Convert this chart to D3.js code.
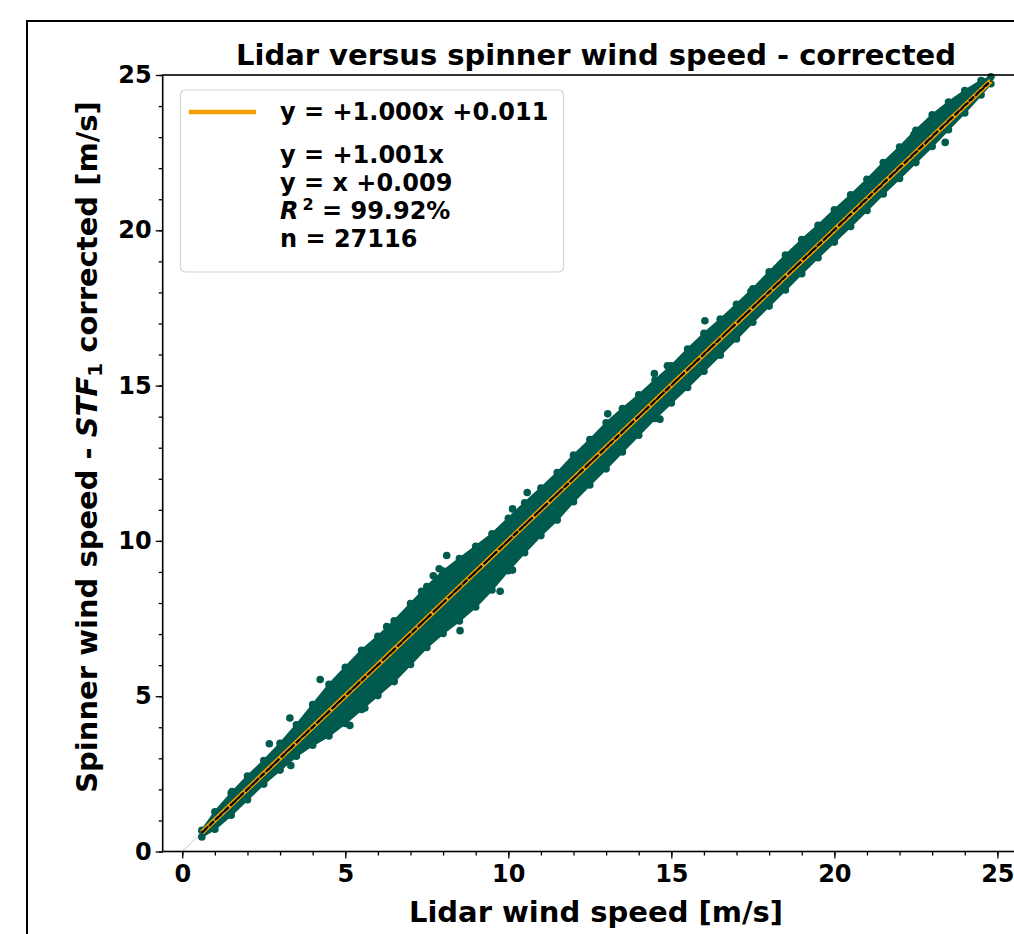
<!DOCTYPE html>
<html>
<head>
<meta charset="utf-8">
<script src="https://cdn.jsdelivr.net/npm/d3@7"></script>
<style>
  body { margin: 0; background: #fff; }
  text { font-family: "DejaVu Sans", sans-serif; font-weight: bold; }
</style>
</head>
<body>
<div id="chart-area"></div>
<script>
// scatter cloud: x, offset above and below the 1:1 line [m/s]
var bandX   = [0.6, 1.0, 1.5, 2.0, 2.5, 3.0, 3.5, 4.0, 4.5, 5.0, 5.5, 6.0, 6.5, 7.0, 7.5, 8.0, 8.5, 9.0, 9.5, 10.0, 10.5, 11.0, 11.5, 12.0, 12.5, 13.0, 13.5, 14.0, 14.5, 15.0, 15.5, 16.0, 16.5, 17.0, 17.5, 18.0, 18.5, 19.0, 19.5, 20.0, 20.5, 21.0, 21.5, 22.0, 22.5, 23.0, 23.5, 24.0, 24.5, 24.8];
var bandUp  = [0.20, 0.40, 0.50, 0.55, 0.55, 0.60, 0.70, 0.85, 1.00, 1.05, 1.10, 1.05, 1.05, 1.10, 1.15, 1.15, 1.05, 0.95, 0.85, 0.85, 0.85, 0.82, 0.82, 0.88, 0.88, 0.92, 0.88, 0.82, 0.80, 0.76, 0.80, 0.80, 0.76, 0.74, 0.74, 0.78, 0.82, 0.82, 0.78, 0.78, 0.76, 0.76, 0.80, 0.80, 0.84, 0.84, 0.75, 0.62, 0.44, 0.26];
var bandLow = [0.25, 0.40, 0.45, 0.45, 0.45, 0.50, 0.55, 0.70, 0.90, 1.00, 1.05, 1.10, 1.15, 1.10, 1.05, 1.10, 1.20, 1.25, 1.20, 1.08, 1.00, 0.95, 0.95, 0.86, 0.82, 0.80, 0.76, 0.72, 0.68, 0.68, 0.68, 0.66, 0.64, 0.62, 0.58, 0.56, 0.54, 0.52, 0.50, 0.50, 0.50, 0.48, 0.45, 0.45, 0.44, 0.42, 0.38, 0.34, 0.26, 0.20];

// loose points outside the dense band
var outX = [4.23, 3.30, 2.67, 3.33, 6.27, 5.60, 5.14, 1.53, 8.11, 7.88, 7.70, 10.58, 10.13, 9.75, 10.13, 8.52, 7.34, 16.03, 14.48, 14.88, 13.05, 14.65, 17.44, 23.40, 24.09, 22.44];
var outY = [5.54, 4.30, 3.47, 2.77, 7.24, 4.62, 4.06, 1.93, 9.53, 9.10, 8.88, 11.56, 11.03, 8.38, 9.06, 7.11, 8.38, 17.09, 15.39, 15.64, 14.09, 13.92, 18.03, 22.83, 24.41, 23.08];

// fits from the legend
var fitRange = [0.6, 24.8];
var fitSlope = 1.000, fitIntercept = 0.011;
var slopeOnly = 1.001;
var offsetOnly = 0.009;

var legendLines = ["y = +1.001x", "y = x +0.009"];
var r2Text = " = 99.92%";
var nText = "n = 27116";

var xTicks = [0, 5, 10, 15, 20, 25];
var yTicks = [0, 5, 10, 15, 20, 25];
var minorTicks = d3.range(0, 26, 1);

var dotColor = "#005a4e";
var orange = "#f5a000";
var dotR = 3.8;

var svg = d3.select("#chart-area").append("svg")
  .attr("width", 1014)
  .attr("height", 934);

// figure frame
svg.append("rect")
  .attr("x", 27).attr("y", 21)
  .attr("width", 1100).attr("height", 1000)
  .attr("fill", "none").attr("stroke", "#000").attr("stroke-width", 2);

var x = d3.scaleLinear().domain([-0.6, 25.97]).range([162.7, 1029]);
var y = d3.scaleLinear().domain([0, 25]).range([851.5, 75]);

// 1:1 reference
svg.append("line")
  .attr("x1", x(0)).attr("y1", y(0))
  .attr("x2", x(25)).attr("y2", y(25))
  .attr("stroke", "#c8c8c8").attr("stroke-width", 1);

var band = bandX.map(function(d, i) {
  return { x: d, hi: d + bandUp[i] - 0.12, lo: d - bandLow[i] + 0.12 };
});

var area = d3.area()
  .x(function(d) { return x(d.x); })
  .y0(function(d) { return y(d.lo); })
  .y1(function(d) { return y(d.hi); });

svg.append("path")
  .datum(band)
  .attr("d", area)
  .attr("fill", dotColor)
  .attr("stroke", dotColor)
  .attr("stroke-width", 2)
  .attr("stroke-linejoin", "round");

// dots along edges so the cloud edge is bumpy like a scatter
svg.selectAll(".edgeHi")
  .data(band)
  .enter()
  .append("circle")
  .attr("cx", function(d) { return x(d.x); })
  .attr("cy", function(d) { return y(d.hi); })
  .attr("r", dotR)
  .attr("fill", dotColor);

svg.selectAll(".edgeLo")
  .data(band)
  .enter()
  .append("circle")
  .attr("cx", function(d) { return x(d.x); })
  .attr("cy", function(d) { return y(d.lo); })
  .attr("r", dotR)
  .attr("fill", dotColor);

svg.selectAll(".out")
  .data(outX)
  .enter()
  .append("circle")
  .attr("cx", function(d) { return x(d); })
  .attr("cy", function(d, i) { return y(outY[i]); })
  .attr("r", dotR)
  .attr("fill", dotColor);

// fit lines
svg.append("line")
  .attr("x1", x(fitRange[0])).attr("y1", y(fitSlope * fitRange[0] + fitIntercept))
  .attr("x2", x(fitRange[1])).attr("y2", y(fitSlope * fitRange[1] + fitIntercept))
  .attr("stroke", orange).attr("stroke-width", 5);

svg.append("line")
  .attr("x1", x(fitRange[0])).attr("y1", y(slopeOnly * fitRange[0]))
  .attr("x2", x(fitRange[1])).attr("y2", y(slopeOnly * fitRange[1]))
  .attr("stroke", "#000").attr("stroke-width", 2)
  .attr("stroke-dasharray", "7,3");

svg.append("line")
  .attr("x1", x(fitRange[0])).attr("y1", y(fitRange[0] + offsetOnly))
  .attr("x2", x(fitRange[1])).attr("y2", y(fitRange[1] + offsetOnly))
  .attr("stroke", "#000").attr("stroke-width", 2)
  .attr("stroke-dasharray", "5,2")
  .attr("stroke-dashoffset", 3);

// axes
svg.append("g")
  .attr("transform", "translate(0," + y(0) + ")")
  .call(d3.axisBottom(x).tickValues(minorTicks).tickSize(4).tickFormat(""));
var xAxis = svg.append("g")
  .attr("transform", "translate(0," + y(0) + ")")
  .call(d3.axisBottom(x).tickValues(xTicks).tickSize(7).tickPadding(6).tickFormat(d3.format("d")));

svg.append("g")
  .attr("transform", "translate(" + x(-0.6) + ",0)")
  .call(d3.axisLeft(y).tickValues(minorTicks).tickSize(4).tickFormat(""));
var yAxis = svg.append("g")
  .attr("transform", "translate(" + x(-0.6) + ",0)")
  .call(d3.axisLeft(y).tickValues(yTicks).tickSize(7).tickPadding(4).tickFormat(d3.format("d")));

svg.selectAll(".domain").remove();
svg.selectAll(".tick line").attr("stroke", "#000").attr("stroke-width", 1.3);
svg.selectAll(".tick text")
  .attr("font-family", "DejaVu Sans")
  .attr("font-weight", "bold")
  .attr("font-size", 24)
  .attr("fill", "#000");

// axes box
svg.append("rect")
  .attr("x", x(-0.6)).attr("y", y(25))
  .attr("width", x(25.97) - x(-0.6)).attr("height", y(0) - y(25))
  .attr("fill", "none").attr("stroke", "#000").attr("stroke-width", 1.6);

// legend
var lg = svg.append("g");
lg.append("rect")
  .attr("x", 180.5).attr("y", 90)
  .attr("width", 383).attr("height", 182)
  .attr("rx", 5)
  .attr("fill", "#fff").attr("fill-opacity", 0.8)
  .attr("stroke", "#d4d4d4").attr("stroke-width", 1.2);
lg.append("line")
  .attr("x1", 189).attr("x2", 256)
  .attr("y1", 112).attr("y2", 112)
  .attr("stroke", orange).attr("stroke-width", 4.5);
lg.append("text")
  .attr("x", 280).attr("y", 120)
  .attr("font-size", 24)
  .text("y = +1.000x +0.011");

lg.selectAll(".ll")
  .data(legendLines)
  .enter()
  .append("text")
  .attr("x", 280)
  .attr("y", function(d, i) { return 163 + i * 28; })
  .attr("font-size", 24)
  .text(function(d) { return d; });

var r2 = lg.append("text")
  .attr("x", 280).attr("y", 219)
  .attr("font-size", 24);
r2.append("tspan").attr("font-style", "italic").text("R");
r2.append("tspan").attr("font-size", 16).attr("dy", -9).attr("dx", 4).text("2");
r2.append("tspan").attr("dy", 9).text(r2Text);

lg.append("text")
  .attr("x", 280).attr("y", 247)
  .attr("font-size", 24)
  .text(nText);

// title and labels
svg.append("text")
  .attr("x", 596).attr("y", 65)
  .attr("text-anchor", "middle")
  .attr("font-size", 29)
  .text("Lidar versus spinner wind speed - corrected");

svg.append("text")
  .attr("x", 596).attr("y", 922)
  .attr("text-anchor", "middle")
  .attr("font-size", 29)
  .text("Lidar wind speed [m/s]");

var yl = svg.append("text")
  .attr("transform", "translate(97,447) rotate(-90)")
  .attr("text-anchor", "middle")
  .attr("font-size", 29);
yl.append("tspan").text("Spinner wind speed - ");
yl.append("tspan").attr("font-style", "italic").text("STF");
yl.append("tspan").attr("font-size", 20).attr("dy", 5).text("1");
yl.append("tspan").attr("dy", -5).text(" corrected [m/s]");
</script>
</body>
</html>
